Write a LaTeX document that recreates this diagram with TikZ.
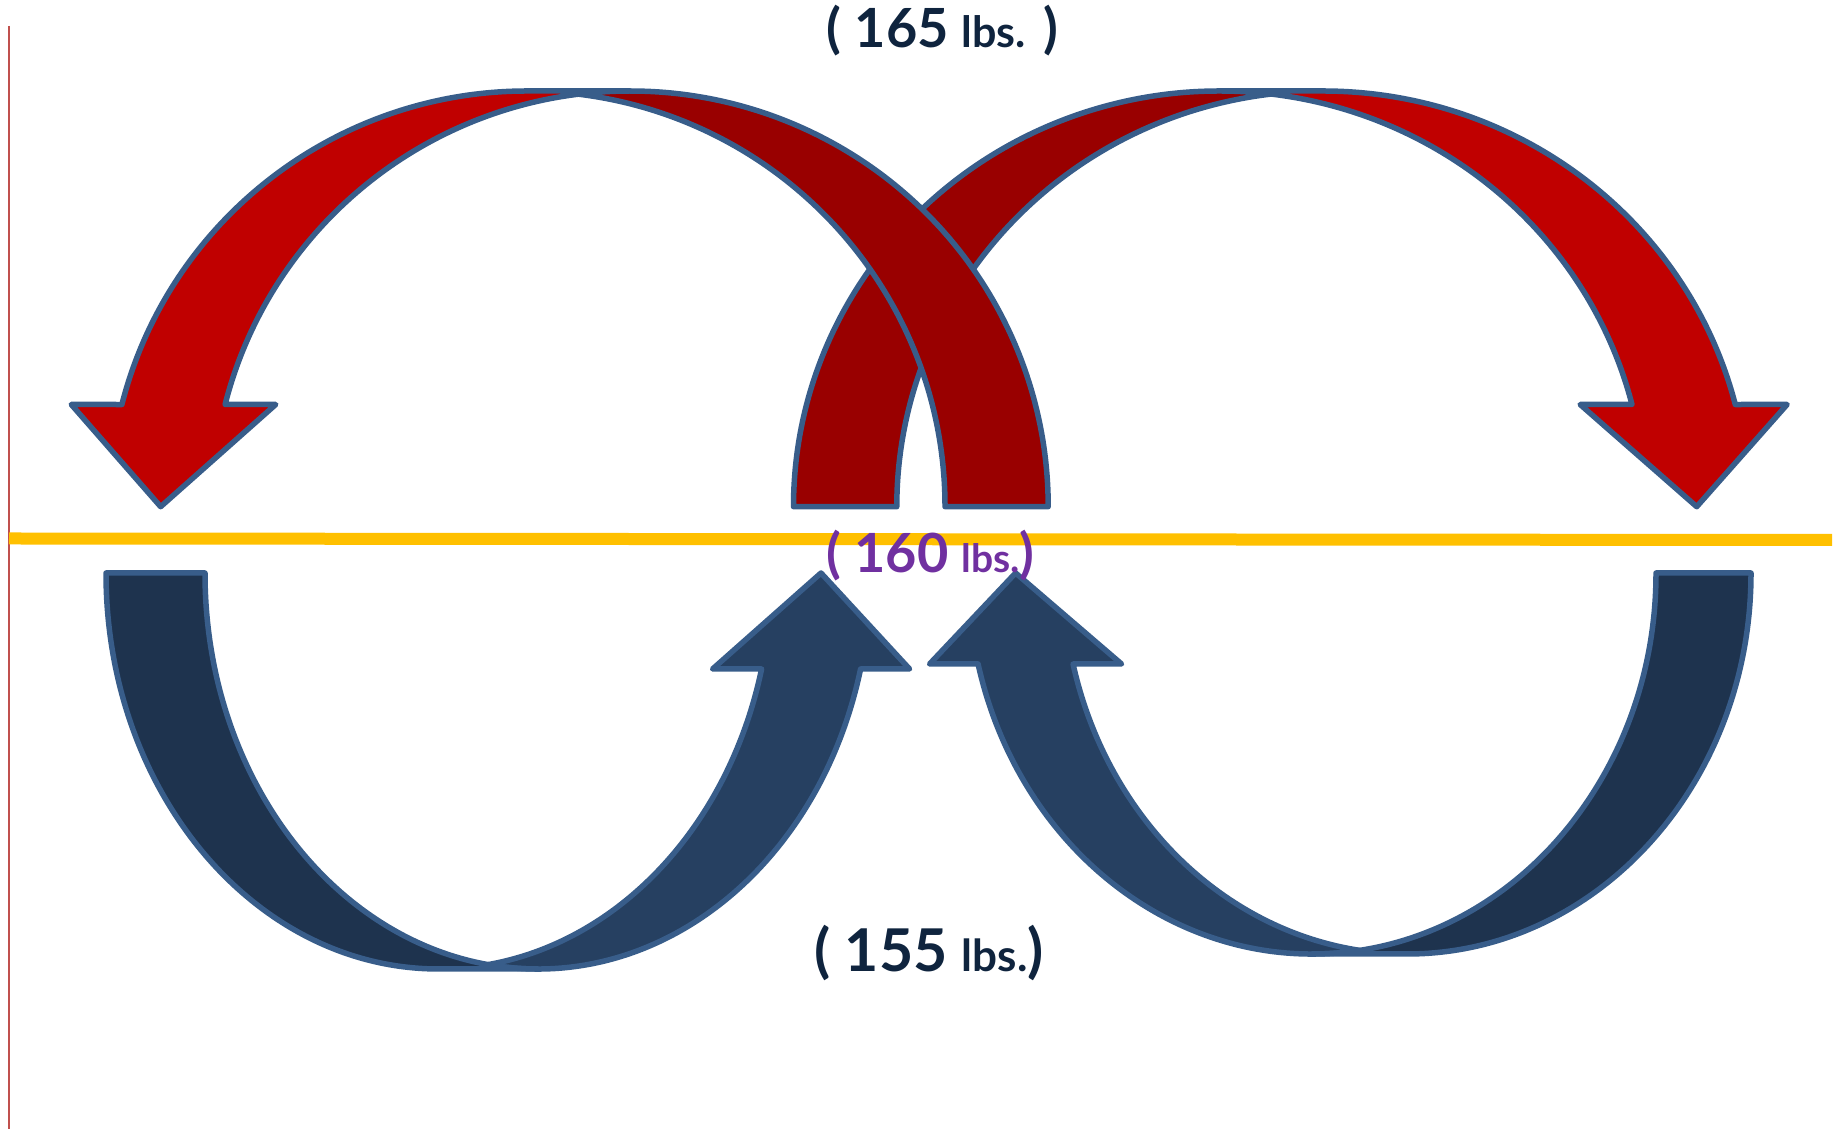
\documentclass[tikz,border=0pt]{standalone}
\usepackage{fontspec}
\setmainfont{Lato}[Numbers=Lining]
\usetikzlibrary{positioning}

\definecolor{redfront}{HTML}{C00000}
\definecolor{redback}{HTML}{990000}
\definecolor{bluefront}{HTML}{264061}
\definecolor{blueback}{HTML}{1E334E}
\definecolor{rim}{HTML}{385D8A}
\definecolor{navytext}{HTML}{0F243E}
\definecolor{purpletext}{HTML}{7030A0}
\definecolor{gold}{HTML}{FFC000}
\definecolor{marginred}{HTML}{C0504D}

% bent block arrow: box #1 x #2, band #3, head width #4, head length #5
\newcommand\bendgeom[5]{%
  \pgfmathsetmacro\rw{#1/2-(#3+#4)/4}%
  \pgfmathsetmacro\angA{asin(#5/#2)}%
  \pgfmathsetmacro\angB{acos(#3/(2*\rw))}%
  \pgfmathsetmacro\xin{\rw+\rw*cos(\angA)}%
  \pgfmathsetmacro\xout{\xin+#3}%
  \pgfmathsetmacro\barbin{\xin-(#4-#3)/2}%
  \pgfmathsetmacro\barbout{\xout+(#4-#3)/2}%
  \pgfmathsetmacro\tipx{#1-#4/2}%
}

% arrow bending over the top and pointing down
\newcommand\downbend[8]{%
  \begin{scope}[#1]
    \bendgeom{#2}{#3}{#4}{#5}{#6}
    \draw[band, fill=#7] (\rw,#3) -- ++(#4,0)
      arc[start angle=90, end angle=\angA, x radius=\rw, y radius=#3]
      -- (\barbout,#6) -- (\tipx,0) -- (\barbin,#6) -- (\xin,#6)
      arc[start angle=\angA, end angle=90, x radius=\rw, y radius=#3] -- cycle;
    \draw[band, fill=#8] (0,0)
      arc[start angle=180, end angle=\angB, x radius=\rw, y radius=#3]
      arc[start angle=180-\angB, end angle=180, x radius=\rw, y radius=#3] -- cycle;
  \end{scope}}

% arrow bending under the bottom and pointing up (used with yscale=-1)
\newcommand\upbend[8]{%
  \begin{scope}[#1]
    \bendgeom{#2}{#3}{#4}{#5}{#6}
    \draw[band, fill=#7] (\xout,#6)
      arc[start angle=\angA, end angle=180-\angB, x radius=\rw, y radius=#3]
      arc[start angle=\angB, end angle=\angA, x radius=\rw, y radius=#3]
      -- (\barbin,#6) -- (\tipx,0) -- (\barbout,#6) -- cycle;
    \draw[band, fill=#8] (0,0)
      arc[start angle=180, end angle=90, x radius=\rw, y radius=#3]
      -- ++(#4,0)
      arc[start angle=90, end angle=180, x radius=\rw, y radius=#3] -- cycle;
  \end{scope}}

\begin{document}
\begin{tikzpicture}[
  x=1pt, y=1pt,
  band/.style={draw=rim, line width=5.5pt, line join=round},
  weight/.style={anchor=base, inner sep=0pt, font=\bfseries},
]
\useasboundingbox (0,0) rectangle (1839,1129);

% margin rule and level line
\draw[marginred, line width=2pt] (9,1103) -- (9,0);
\draw[gold, line width=12pt] (9,590.5) -- (1832,589);

% Upper arrows
\downbend{shift={(793.5,622.3)}}{1006.7}{415.7}{103.3}{207}{102.2}{redfront}{redback}
\downbend{shift={(1048.2,622.3)}, xscale=-1}{989.8}{415.7}{103.2}{204.5}{102.2}{redfront}{redback}

% Lower arrows
\upbend{shift={(106,556)}, yscale=-1}{813.5}{396}{99}{197}{96}{bluefront}{blueback}
\upbend{shift={(1751,556)}, xscale=-1, yscale=-1}{831.4}{381}{95}{192}{91}{bluefront}{blueback}

% Weights
\node[weight, text=navytext] (high) at (942.5,1081)
  {\fontsize{54}{56}\selectfont ( 165 {\fontsize{43}{45}\selectfont lbs.} )};
\node[weight, text=purpletext] (mid) at (930.5,556)
  {\fontsize{54}{56}\selectfont ( 160 {\fontsize{39}{41}\selectfont lbs.})};
\node[weight, text=navytext] (low) at (929,157)
  {\fontsize{59}{61}\selectfont ( 155 {\fontsize{44}{46}\selectfont lbs.})};

\end{tikzpicture}
\end{document}
